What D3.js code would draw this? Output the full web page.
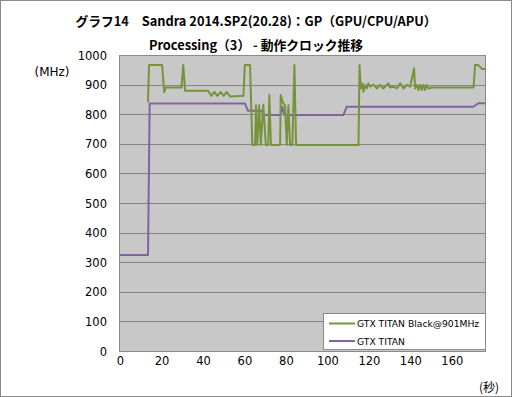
<!DOCTYPE html>
<html><head><meta charset="utf-8">
<script src="https://cdn.jsdelivr.net/npm/d3@7"></script>
<style>
html,body{margin:0;padding:0;background:#fff;}
svg{display:block;}
.lbl{font-family:"DejaVu Sans",Verdana,sans-serif;}
</style></head>
<body>
<script>
// ---- data ----
const titleLines = ["グラフ14　Sandra 2014.SP2(20.28)：GP（GPU/CPU/APU）", "Processing（3） - 動作クロック推移"];
const yTicks = [0,100,200,300,400,500,600,700,800,900,1000];
const xTicks = [0,20,40,60,80,100,120,140,160];
const seriesNames = ["GTX TITAN Black@901MHz", "GTX TITAN"];

const blackTime = [13.5,14,20.3,21.3,22,29.6,30.5,31.4,42.5,44,45.5,47,48.5,50,51.5,53,59.5,60.2,62.7,63.8,65.1,65.6,66.2,67.1,67.9,69.1,70.3,71.5,72,72.8,77.2,77.5,78.5,79.6,80.4,81.2,82,83.1,84.1,84.9,115,115.5,116.1,116.9,117.4,118.2,119,119.8,120.6,122.2,123.8,125.4,127,127.8,129.4,130.2,131.8,133.5,135.1,136.7,138.3,139.9,141.8,142.3,143.1,143.9,144.7,145.5,146.3,147.1,147.9,148.7,150.3,170.5,171.2,172.8,174.5,176];
const blackMHz  = [840,966,966,874,890,890,966,879,879,862,875,862,875,862,875,860,862,966,966,696,696,830,696,830,696,832,696,696,865,696,696,865,840,830,696,830,696,696,966,696,696,966,887,904,876,899,887,904,893,900,887,899,887,893,904,890,893,887,904,887,899,893,955,887,899,882,899,882,899,882,899,887,890,890,966,966,953,953];

const titanTime = [0,13.5,14.3,60.3,61.6,68.3,69.1,71.5,72,72.8,77.5,78.3,79.3,107.7,109.3,170.4,172.8,176];
const titanMHz  = [324,324,836,836,812,812,797,797,808,797,797,825,797,797,825,825,837,837];

// ---- layout ----
const W = 512, H = 397;
const plot = {l:119.5, r:485.5, t:55.5, b:351.5};
const svg = d3.select("body").append("svg").attr("width",W).attr("height",H);

svg.append("rect").attr("x",0.5).attr("y",0.5).attr("width",W-1).attr("height",H-1)
  .attr("fill","#fff").attr("stroke","#8a8a8a");

const x = d3.scaleLinear().domain([0,176]).range([120,485]);
const y = d3.scaleLinear().domain([0,1000]).range([351,55]);

svg.append("rect").attr("x",plot.l).attr("y",plot.t).attr("width",plot.r-plot.l).attr("height",plot.b-plot.t)
  .attr("fill","#c8c8c8");

svg.append("g").selectAll("line").data(yTicks.filter(d=>d>0&&d<1000)).join("line")
  .attr("x1",plot.l).attr("x2",plot.r)
  .attr("y1",d=>Math.round(y(d))+0.5).attr("y2",d=>Math.round(y(d))+0.5)
  .attr("stroke","#858585").attr("stroke-width",1);

svg.append("rect").attr("x",plot.l).attr("y",plot.t).attr("width",plot.r-plot.l).attr("height",plot.b-plot.t)
  .attr("fill","none").attr("stroke","#8a8a8a");

const yAxis = d3.axisLeft(y).tickValues(yTicks).tickFormat(d3.format("d")).tickSize(0).tickPadding(0);
const gy = svg.append("g").attr("transform","translate(107,0)").call(yAxis);
gy.attr("font-family",null).attr("font-size",null);
gy.select(".domain").remove();
gy.selectAll("text").attr("class","lbl").style("font-size","11.5px").attr("fill","#000").attr("dy","0.36em");

const xAxis = d3.axisBottom(x).tickValues(xTicks).tickFormat(d3.format("d")).tickSize(0).tickPadding(0);
const gx = svg.append("g").attr("transform","translate(0,357)").call(xAxis);
gx.attr("font-family",null).attr("font-size",null);
gx.select(".domain").remove();
gx.selectAll("text").attr("class","lbl").style("font-size","11.5px").attr("fill","#000").attr("dy","0.71em");

svg.append("text").attr("class","lbl").attr("x",52).attr("y",72).attr("text-anchor","middle").attr("dominant-baseline","central")
  .style("font-size","12px").text("(MHz)");
svg.append("text").attr("x",489).attr("y",386).attr("text-anchor","middle").attr("dominant-baseline","central")
  .style("font-family","'Noto Sans CJK JP'").style("font-size","12px").text("(秒)");

svg.append("g").selectAll("text").data(titleLines).join("text")
  .attr("x",256).attr("y",(d,i)=>i===0?20:44).attr("text-anchor","middle").attr("dominant-baseline","central")
  .style("font-family","'Noto Sans CJK JP'").style("font-weight","bold").style("font-size","12.8px").text(d=>d);

const colors = ["#77933c","#8064a2"];
const lineGen = d3.line().x(d=>x(d[0])).y(d=>y(d[1]));
const blackData = blackTime.map((t,i)=>[t,blackMHz[i]]);
const titanData = titanTime.map((t,i)=>[t,titanMHz[i]]);
svg.append("path").datum(titanData).attr("d",lineGen).attr("fill","none").attr("stroke",colors[1]).attr("stroke-width",2).attr("stroke-linejoin","round");
svg.append("path").datum(blackData).attr("d",lineGen).attr("fill","none").attr("stroke",colors[0]).attr("stroke-width",2).attr("stroke-linejoin","round");

const lg = svg.append("g");
lg.append("rect").attr("x",323.5).attr("y",313.5).attr("width",162).attr("height",36)
  .attr("fill","#fff").attr("stroke","#8a8a8a");
seriesNames.forEach((n,i)=>{
  const yy = 323.5 + i*17.5;
  lg.append("line").attr("x1",329).attr("x2",355).attr("y1",yy).attr("y2",yy).attr("stroke",colors[i]).attr("stroke-width",2);
  lg.append("text").attr("class","lbl").attr("x",357).attr("y",yy).attr("dominant-baseline","central")
    .style("font-size","9.2px").text(n);
});
</script>
</body></html>
